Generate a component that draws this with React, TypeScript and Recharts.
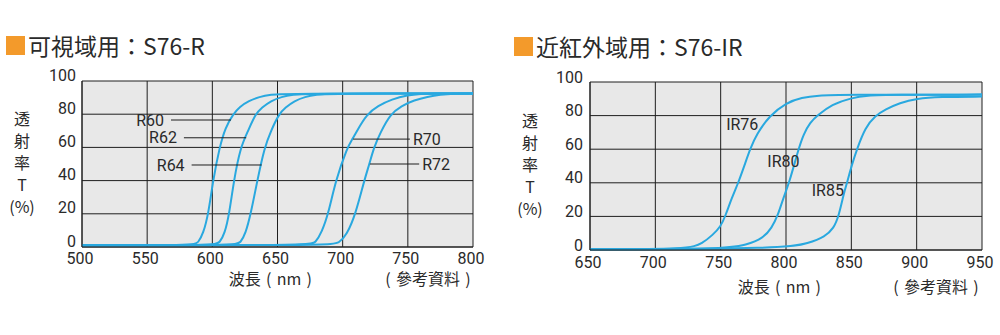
import React from 'react';
import {
  LineChart, Line, XAxis, YAxis, CartesianGrid, ReferenceLine, ReferenceDot
} from 'recharts';

// --- 可視域用 S76-R ---
const visTicksX = [500, 550, 600, 650, 700, 750, 800];
const r60Nm = [500, 586, 589, 593, 597, 600.5, 605.5, 610, 616, 621, 628, 636, 645, 655, 800];
const r60T = [1, 1, 2.5, 8, 20, 40, 60, 72, 80, 84.5, 88, 90.5, 91.8, 92.4, 92.5];
const r62Nm = [500, 602, 605.5, 609.5, 613, 616.5, 621.5, 627.5, 633, 638, 645, 653, 662, 672, 800];
const r62T = [1, 1, 2.5, 8, 20, 40, 60, 70, 80, 84, 88, 90.5, 91.8, 92.4, 92.5];
const r64Nm = [500, 618, 621.5, 625.5, 629.5, 634.5, 640, 645, 651, 656, 663, 671, 680, 690, 800];
const r64T = [1, 1, 2.5, 8, 20, 40, 60, 70, 80, 84, 88, 90.5, 91.8, 92.4, 92.5];
const r70Nm = [500, 675, 679, 684, 689, 694.6, 703.5, 707.5, 711, 718.5, 727, 737.7, 750, 760, 770, 800];
const r70T = [1, 1, 2.5, 9, 20, 40, 60, 65, 70, 80, 85, 89, 91.5, 92.2, 92.5, 92.5];
const r72Nm = [500, 692, 697, 703, 710, 716.5, 720.5, 724, 729, 736.5, 745, 755, 765, 775, 785, 800];
const r72T = [1, 1, 2.5, 7, 20, 40, 50, 60, 69, 80, 85, 88.5, 90.5, 91.8, 92.4, 92.5];

// leader lines: [label, y, xStart, xEnd, side]
const visLeaders: [string, number, number, number, 'left' | 'right'][] = [
  ['R60', 76.5, 568.3, 614.3, 'left'],
  ['R62', 65.8, 578.2, 626, 'left'],
  ['R64', 49.4, 584.1, 637.8, 'left'],
  ['R70', 65, 708, 751.6, 'right'],
  ['R72', 50, 720.9, 758.7, 'right'],
];

// --- 近紅外域用 S76-IR ---
const irTicksX = [650, 700, 750, 800, 850, 900, 950];
const ir76Nm = [650, 726, 736, 744, 750, 753.5, 758.5, 763.5, 768.5, 772.5, 777.5, 787.5, 800, 812, 825, 840, 950];
const ir76T = [0.4, 0.4, 4, 9, 14, 20, 31, 40, 51, 60, 69, 80, 87.6, 90.8, 92, 92.4, 92.5];
const ir80Nm = [650, 752, 770, 782.5, 789, 794, 797.5, 802.5, 809.5, 813.5, 818.5, 824, 835, 850, 862, 880, 950];
const ir80T = [0.4, 0.4, 3, 7, 13, 21, 30, 40, 60, 69, 76, 80, 86.7, 90.5, 92, 92.4, 92.5];
const ir85Nm = [650, 800, 817, 830, 836.5, 840.3, 844, 846.7, 850.5, 854.3, 860.7, 868.4, 876, 887, 900, 917, 950];
const ir85T = [0.4, 0.8, 4, 8, 13, 20, 33, 40, 51, 60, 73, 80, 83.7, 87.6, 90.2, 91.2, 91.3];

// text labels: [label, x, y]
const irLabels: [string, number, number][] = [
  ['IR76', 766.5, 75.1],
  ['IR80', 798, 52.7],
  ['IR85', 832, 35.8],
];

const ticksY = [0, 20, 40, 60, 80, 100];
const yLabelChars = ['透', '射', '率', 'T', '(%)'];

const toPts = (nm: number[], t: number[]) => nm.map((x, i) => ({ nm: x, t: t[i] }));

const visSeries = [toPts(r60Nm, r60T), toPts(r62Nm, r62T), toPts(r64Nm, r64T), toPts(r70Nm, r70T), toPts(r72Nm, r72T)];
const irSeries = [toPts(ir76Nm, ir76T), toPts(ir80Nm, ir80T), toPts(ir85Nm, ir85T)];

const CURVE = '#29a8df';
const INK = '#2a2a2a';
const GRID = '#1e1e1e';
const CJK = '"Noto Sans CJK JP", "Noto Sans", sans-serif';
const CJK_TC = '"Noto Sans CJK TC", "Noto Sans CJK JP", sans-serif';
const NUM = 'Roboto, "Noto Sans", sans-serif';

const makeXTick = (dy: number) => (props: any) => (
  <text x={props.x - 2} y={props.y + dy} textAnchor="middle" dominantBaseline="central"
    fill={INK} fontSize={16} fontFamily={NUM}>{props.payload.value}</text>
);
const makeYTick = (dx: number, dy: number) => (props: any) => (
  <text x={props.x - dx} y={props.y + dy} textAnchor="end" dominantBaseline="central"
    fill={INK} fontSize={16} fontFamily={NUM}>{props.payload.value}</text>
);

const Title = ({ left, top, text }: { left: number; top: number; text: string }) => (
  <div style={{ position: 'absolute', left, top, display: 'flex', alignItems: 'center', fontFamily: CJK, fontSize: 23, color: INK, lineHeight: '24px', whiteSpace: 'nowrap' }}>
    <span style={{ display: 'inline-block', width: 19, height: 19, background: '#f39a2b', marginRight: 3 }} />
    <span>{text}</span>
  </div>
);

const YLabel = ({ left, top }: { left: number; top: number }) => (
  <div style={{ position: 'absolute', left, top, width: 40, textAlign: 'center', fontFamily: CJK, fontSize: 16, lineHeight: '22px', color: INK }}>
    {yLabelChars.map((c) => <div key={c}>{c}</div>)}
  </div>
);

// full-width bracket kept at full width
const Paren = ({ ch }: { ch: string }) => (
  <span style={{ display: 'inline-block', width: 16, textAlign: 'center' }}>{ch === '（' ? '(' : ')'}</span>
);

const labelStyle = (cx: number, cy: number, font: string) => ({
  position: 'absolute', left: cx, top: cy, transform: 'translate(-50%, -50%)', fontFamily: font,
  fontSize: 16, lineHeight: '18px', color: INK, whiteSpace: 'nowrap',
} as any);

const XLabels = ({ cx1, cx2, cy }: { cx1: number; cx2: number; cy: number }) => (
  <>
    <div style={labelStyle(cx1, cy, CJK)}>波長<Paren ch="（" />nm<Paren ch="）" /></div>
    <div style={labelStyle(cx2, cy, CJK_TC)}><Paren ch="（" />參考資料<Paren ch="）" /></div>
  </>
);

export default function App() {
  return (
    <div style={{ position: 'relative', width: 1000, height: 335, background: '#fff', overflow: 'hidden', fontFamily: NUM }}>
      <style>{'body{margin:0}'}</style>

      <Title left={6} top={33} text="可視域用：S76-R" />
      <Title left={514} top={34} text="近紅外域用：S76-IR" />
      <YLabel left={2} top={107} />
      <YLabel left={510} top={109} />
      <XLabels cx1={273} cx2={428} cy={278} />
      <XLabels cx1={782} cx2={936} cy={286} />

      {/* visible range */}
      <div style={{ position: 'absolute', left: 0, top: 0 }}>
        <LineChart width={500} height={300} margin={{ top: 81, right: 27, bottom: 23, left: 42 }}>
          <CartesianGrid fill="#e8e8e8" stroke={GRID} strokeWidth={1} />
          <XAxis type="number" dataKey="nm" domain={[500, 800]} ticks={visTicksX} allowDataOverflow
            height={30} tickLine={false} tickSize={0} tickMargin={0} axisLine={{ stroke: GRID }}
            tick={makeXTick(11)} interval={0} />
          <YAxis type="number" domain={[0, 100]} ticks={ticksY} width={40}
            tickLine={false} tickSize={0} tickMargin={0} axisLine={{ stroke: GRID }}
            tick={makeYTick(6, -6)} interval={0} />
          {visSeries.map((d, i) => (
            <Line key={i} data={d} dataKey="t" type="basis" stroke={CURVE} strokeWidth={2}
              dot={false} activeDot={false} isAnimationActive={false} />
          ))}
          {visLeaders.map(([name, y, x1, x2, side]) => (
            <ReferenceLine key={name} segment={[{ x: x1, y }, { x: x2, y }]} stroke={GRID} strokeWidth={1}
              label={{ value: name, position: side, offset: side === 'left' ? 7 : 3, fill: INK, fontSize: 16, fontFamily: NUM }} />
          ))}
        </LineChart>
      </div>

      {/* near infrared range */}
      <div style={{ position: 'absolute', left: 500, top: 0 }}>
        <LineChart width={500} height={300} margin={{ top: 82, right: 18, bottom: 20, left: 50 }}>
          <CartesianGrid fill="#e8e8e8" stroke={GRID} strokeWidth={1} />
          <XAxis type="number" dataKey="nm" domain={[650, 950]} ticks={irTicksX} allowDataOverflow
            height={30} tickLine={false} tickSize={0} tickMargin={0} axisLine={{ stroke: GRID }}
            tick={makeXTick(12)} interval={0} />
          <YAxis type="number" domain={[0, 100]} ticks={ticksY} width={40}
            tickLine={false} tickSize={0} tickMargin={0} axisLine={{ stroke: GRID }}
            tick={makeYTick(7, -5)} interval={0} />
          {irSeries.map((d, i) => (
            <Line key={i} data={d} dataKey="t" type="basis" stroke={CURVE} strokeWidth={2}
              dot={false} activeDot={false} isAnimationActive={false} />
          ))}
          {irLabels.map(([name, x, y]) => (
            <ReferenceDot key={name} x={x} y={y} r={1} fill="none" stroke="none"
              label={{ value: name, position: 'center', fill: INK, fontSize: 16, fontFamily: NUM }} />
          ))}
        </LineChart>
      </div>
    </div>
  );
}
